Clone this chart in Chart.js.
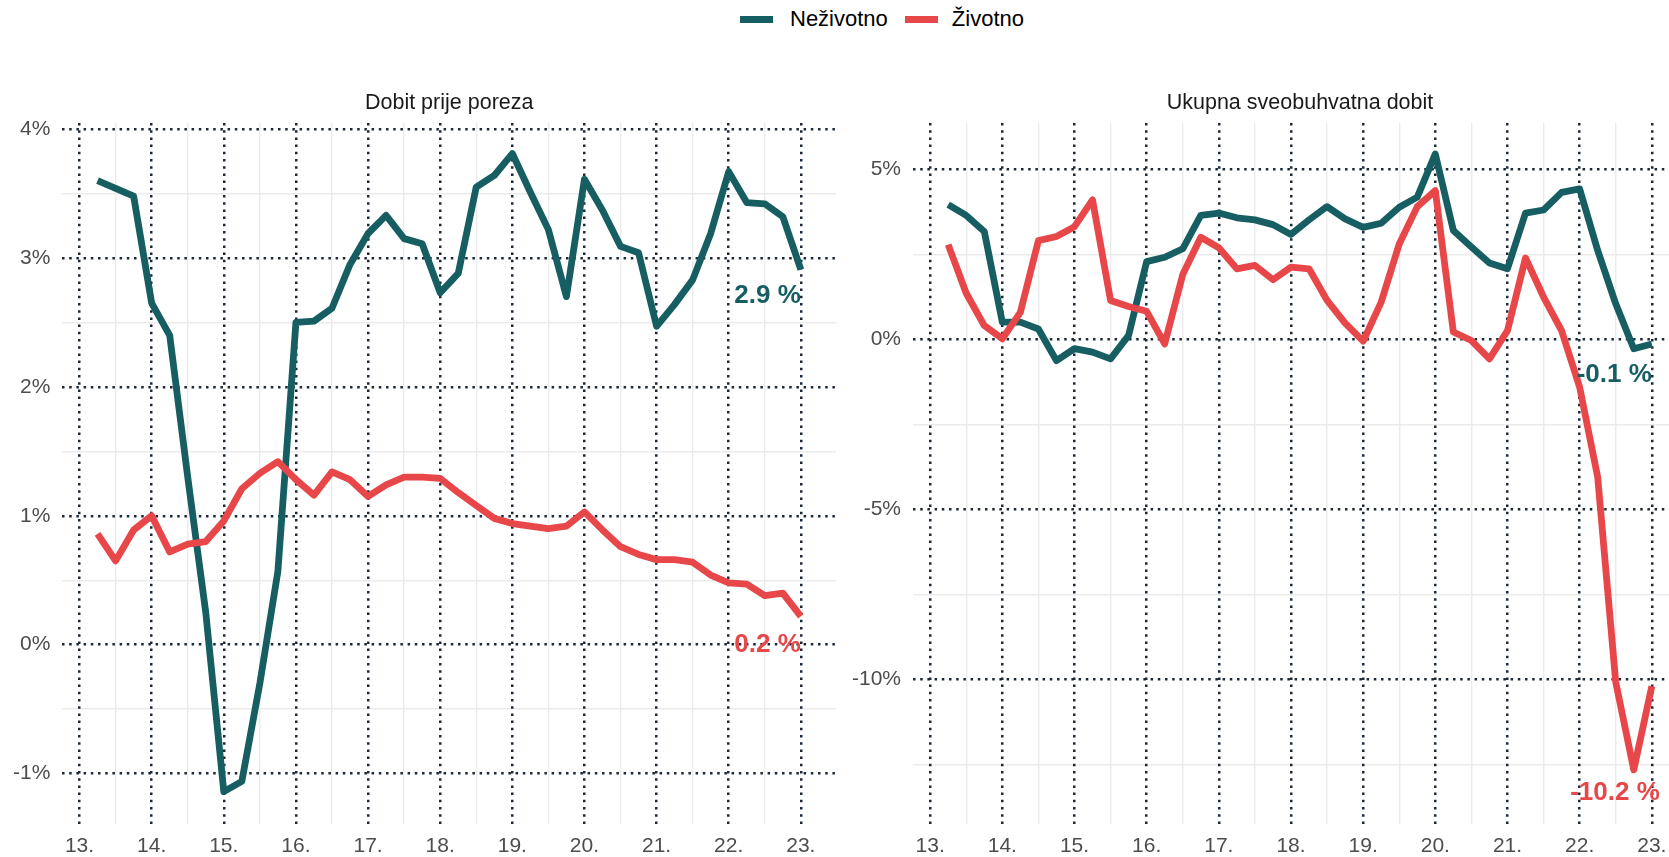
<!DOCTYPE html>
<html>
<head>
<meta charset="utf-8">
<script src="https://cdn.jsdelivr.net/npm/chart.js@4"></script>
<style>
  html, body { margin: 0; padding: 0; background: #fff; overflow: hidden; width: 1669px; height: 857px; }
  canvas { position: absolute; top: 0; }
  #legend { position: absolute; left: 740px; top: 6px; display: flex; align-items: center;
            font: 22px 'Liberation Sans', Arial, sans-serif; color: #000; line-height: 26px; }
  #legend .key { display: inline-block; width: 33px; height: 7px; }
</style>
</head>
<body>
<div id="legend">
  <span class="key" style="background:#175e63;margin-right:17px"></span><span>Neživotno</span>
  <span class="key" style="background:#e8474a;margin-left:17px;margin-right:14px"></span><span>Životno</span>
</div>
<canvas id="dobit" width="845" height="857" style="left:0"></canvas>
<canvas id="ukupna" width="842" height="857" style="left:845px"></canvas>
<script>
var periods = [
  "2013Q2", "2013Q3", "2013Q4",
  "2014Q1", "2014Q2", "2014Q3", "2014Q4",
  "2015Q1", "2015Q2", "2015Q3", "2015Q4",
  "2016Q1", "2016Q2", "2016Q3", "2016Q4",
  "2017Q1", "2017Q2", "2017Q3", "2017Q4",
  "2018Q1", "2018Q2", "2018Q3", "2018Q4",
  "2019Q1", "2019Q2", "2019Q3", "2019Q4",
  "2020Q1", "2020Q2", "2020Q3", "2020Q4",
  "2021Q1", "2021Q2", "2021Q3", "2021Q4",
  "2022Q1", "2022Q2", "2022Q3", "2022Q4",
  "2023Q1",
];

// Dobit prije poreza (%)
var nezivotnoDobit = [3.60, 3.54, 3.48, 2.65, 2.40, 1.30, 0.25, -1.14, -1.06, -0.30, 0.57,
  2.50, 2.51, 2.61, 2.95, 3.19, 3.33, 3.15, 3.11, 2.73, 2.88, 3.55, 3.64, 3.81, 3.51, 3.22,
  2.70, 3.61, 3.37, 3.09, 3.04, 2.47, 2.64, 2.83, 3.19, 3.67, 3.43, 3.42, 3.32, 2.91];
var zivotnoDobit = [0.86, 0.65, 0.89, 1.00, 0.72, 0.78, 0.80, 0.96, 1.21, 1.33, 1.42,
  1.28, 1.16, 1.34, 1.28, 1.15, 1.24, 1.30, 1.30, 1.29, 1.18, 1.08, 0.98, 0.94, 0.92, 0.90,
  0.92, 1.03, 0.89, 0.76, 0.70, 0.66, 0.66, 0.64, 0.54, 0.48, 0.47, 0.38, 0.40, 0.22];

// Ukupna sveobuhvatna dobit (%)
var nezivotnoUkupna = [3.97, 3.65, 3.18, 0.51, 0.51, 0.31, -0.62, -0.27, -0.37, -0.57, 0.12,
  2.29, 2.42, 2.67, 3.65, 3.72, 3.58, 3.52, 3.38, 3.09, 3.52, 3.91, 3.55, 3.30, 3.42, 3.89,
  4.19, 5.46, 3.21, 2.72, 2.25, 2.08, 3.72, 3.81, 4.33, 4.43, 2.62, 1.05, -0.27, -0.13];
var zivotnoUkupna = [2.79, 1.36, 0.41, 0.02, 0.80, 2.91, 3.03, 3.32, 4.11, 1.15, 0.97,
  0.83, -0.13, 1.91, 3.01, 2.70, 2.08, 2.18, 1.76, 2.13, 2.08, 1.15, 0.48, -0.05, 1.10, 2.81,
  3.91, 4.38, 0.22, -0.03, -0.57, 0.26, 2.40, 1.25, 0.26, -1.40, -4.05, -10.08, -12.66, -10.2];

var seriesNames = ["Neživotno", "Životno"];

var FONT = "'Liberation Sans', Arial, sans-serif";
var TEAL = "#175e63";
var RED = "#e8474a";
var GRID_MAJOR = "#1b2838";
var GRID_MINOR = "#ebebeb";

// quarter -> decimal year (Q1 sits on the year tick)
var xs = periods.map(function (p) {
  return Number(p.slice(0, 4)) + (Number(p.slice(5)) - 1) / 4;
});
var xMin = 2012.7625;
var xMax = 2023.4875;

function points(values) {
  return values.map(function (v, i) { return { x: xs[i], y: v }; });
}

// panel title centred over the plot area, end-of-line value labels
var panelText = {
  id: "panelText",
  afterDatasetsDraw: function (chart, args, opts) {
    var ctx = chart.ctx;
    var area = chart.chartArea;
    var x = chart.scales.x.getPixelForValue(xs[xs.length - 1]);
    ctx.save();
    ctx.font = "bold 26px " + FONT;
    ctx.textAlign = "right";
    ctx.textBaseline = "middle";
    opts.items.forEach(function (it) {
      ctx.fillStyle = it.color;
      ctx.fillText(it.text, x + (it.dx || 0), chart.scales.y.getPixelForValue(it.y));
    });
    ctx.font = "21.5px " + FONT;
    ctx.fillStyle = "#1a1a1a";
    ctx.textAlign = "center";
    ctx.fillText(opts.title, (area.left + area.right) / 2, 103);
    ctx.restore();
  },
};

function panel(id, title, teal, red, yMin, yMax, yStep, yWidth, padRight, labels) {
  var tickFont = { family: FONT, size: 21 };
  return new Chart(document.getElementById(id), {
    type: "line",
    data: {
      datasets: [
        { label: seriesNames[0], data: points(teal), borderColor: TEAL, order: 1 },
        { label: seriesNames[1], data: points(red), borderColor: RED, order: 0 },
      ],
    },
    options: {
      responsive: false,
      animation: false,
      layout: { padding: { left: 0, right: padRight, top: 123, bottom: 0 } },
      elements: {
        point: { radius: 0 },
        line: { borderWidth: 6.8, tension: 0, borderJoinStyle: "round", borderCapStyle: "butt", fill: false },
      },
      plugins: {
        legend: { display: false },
        tooltip: { enabled: false },
        title: { display: false },
        panelText: { items: labels, title: title },
      },
      scales: {
        xMinor: {
          type: "linear", position: "bottom", min: xMin, max: xMax,
          border: { display: false },
          grid: {
            drawTicks: false, lineWidth: 1.4,
            color: function (c) { return c.tick && c.tick.value % 1 !== 0 ? GRID_MINOR : "rgba(0,0,0,0)"; },
          },
          ticks: { display: false, stepSize: 0.5, includeBounds: false },
          afterFit: function (s) { s.height = 0; },
        },
        yMinor: {
          type: "linear", position: "left", min: yMin, max: yMax,
          border: { display: false },
          grid: {
            drawTicks: false, lineWidth: 1.4,
            color: function (c) {
              return c.tick && Math.abs(c.tick.value % yStep) > 1e-9 ? GRID_MINOR : "rgba(0,0,0,0)";
            },
          },
          ticks: { display: false, stepSize: yStep / 2, includeBounds: false },
          afterFit: function (s) { s.width = 0; },
        },
        x: {
          type: "linear", position: "bottom", min: xMin, max: xMax,
          border: { display: false, dash: [2.5, 4.7] },
          grid: { drawTicks: false, lineWidth: 2.5, color: GRID_MAJOR },
          ticks: {
            stepSize: 1, includeBounds: false, padding: 10, maxRotation: 0, autoSkip: false,
            color: "#4d4d4d", font: tickFont,
            callback: function (v) { return String(v).slice(2) + "."; },
          },
          afterFit: function (s) { s.height = 33.5; },
        },
        y: {
          type: "linear", position: "left", min: yMin, max: yMax,
          border: { display: false, dash: [2.5, 4.7] },
          grid: { drawTicks: false, lineWidth: 2.5, color: GRID_MAJOR },
          ticks: {
            stepSize: yStep, includeBounds: false, padding: 12,
            color: "#4d4d4d", font: tickFont,
            callback: function (v) { return v + "%"; },
          },
          afterFit: function (s) { s.width = yWidth; },
        },
      },
    },
    plugins: [panelText],
  });
}

panel("dobit", "Dobit prije poreza", nezivotnoDobit, zivotnoDobit,
  -1.387, 4.047, 1, 62.4, 9,
  [{ text: "2.9 %", color: TEAL, y: 2.705 }, { text: "0.2 %", color: RED, y: 0.0 }]);

panel("ukupna", "Ukupna sveobuhvatna dobit", nezivotnoUkupna, zivotnoUkupna,
  -14.24, 6.37, 5, 68, 0,
  [{ text: "-0.1 %", color: TEAL, y: -1.05 }, { text: "-10.2 %", color: RED, y: -13.35, dx: 8 }]);
</script>
</body>
</html>
